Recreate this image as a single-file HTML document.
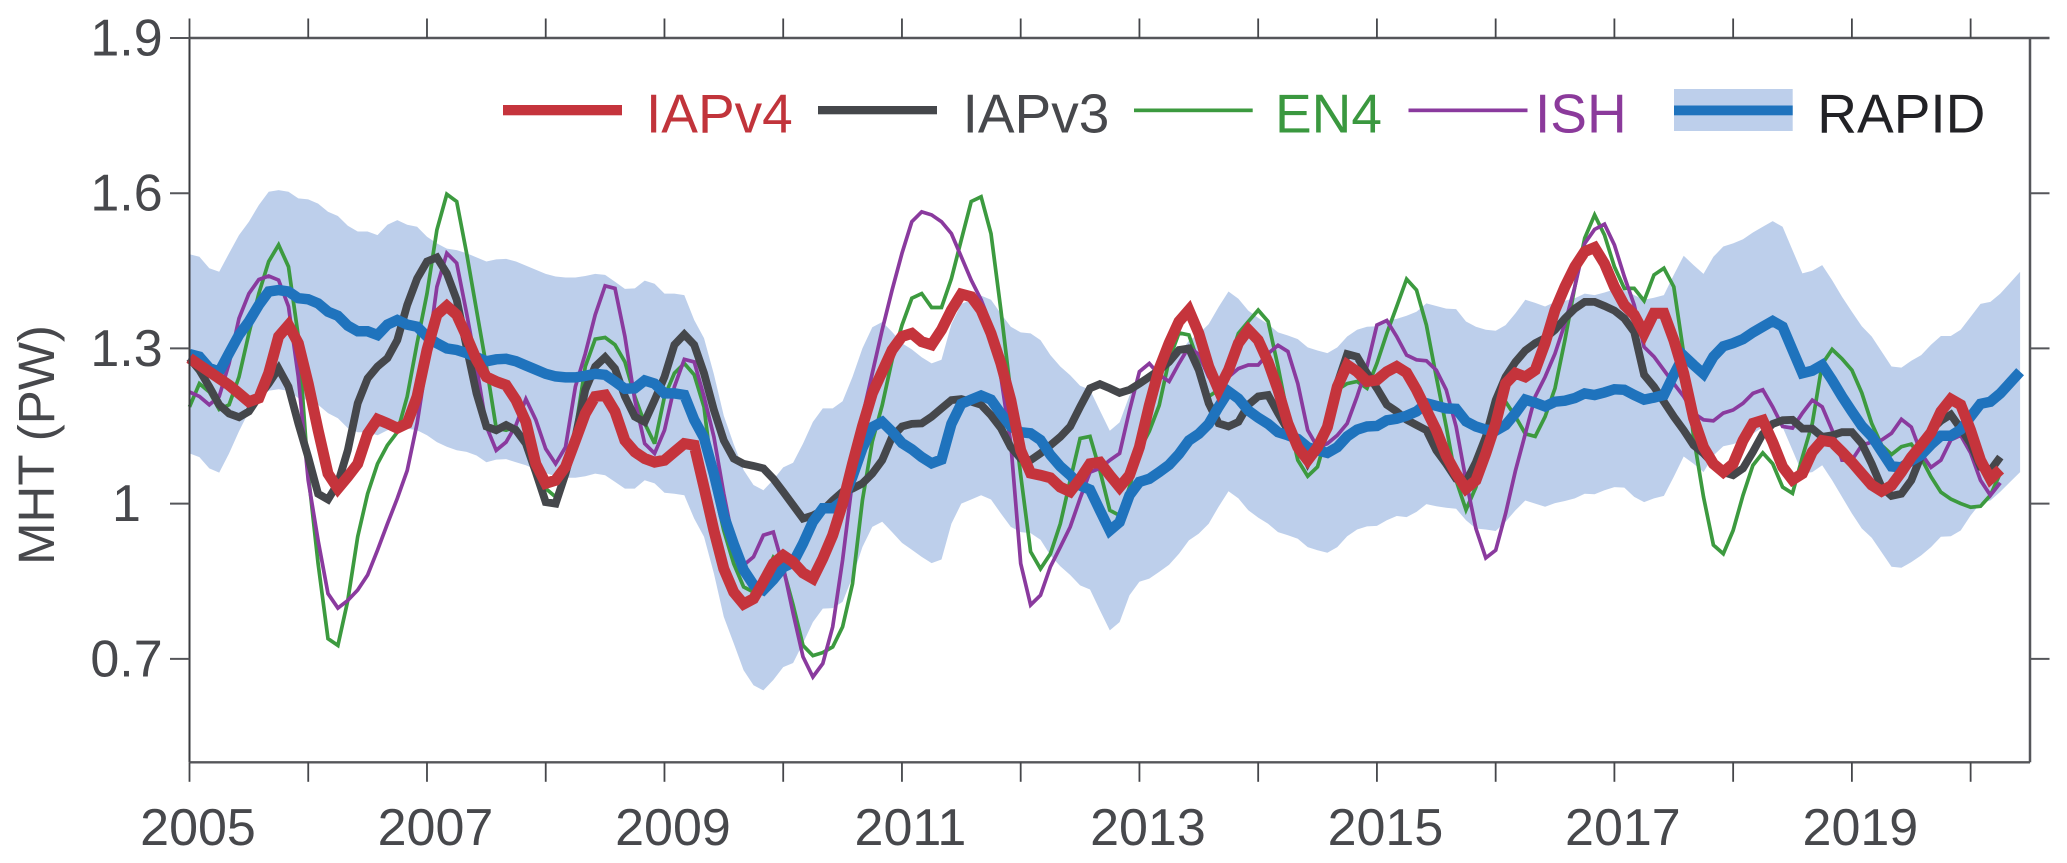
<!DOCTYPE html>
<html lang="en">
<head>
<meta charset="utf-8">
<title>MHT time series</title>
<style>
html,body{margin:0;padding:0;background:#fff;}
#chart{display:block;position:absolute;left:0;top:0;}
text{font-family:"Liberation Sans",Arial,sans-serif;}
</style>
</head>
<body>
<svg id="chart" xmlns="http://www.w3.org/2000/svg" width="2067" height="863" viewBox="0 0 2067 863">
  <rect x="0" y="0" width="2067" height="863" fill="#ffffff"/>
  <g id="band-layer"></g>
  <g id="series-layer"></g>
  <g id="axis-layer"></g>
  <text x="0" y="0" transform="translate(54,445) rotate(-90)" text-anchor="middle" font-size="51" fill="#47484c">MHT (PW)</text>
  <g>
    <rect x="503" y="105" width="119" height="10.3" fill="#c5343c"/>
    <text x="646" y="132.7" font-size="55" fill="#c1343b">IAPv4</text>
    <rect x="818" y="106" width="119" height="8.3" fill="#45474b"/>
    <text x="962.6" y="132.7" font-size="55" fill="#47484c">IAPv3</text>
    <rect x="1134" y="108.5" width="118.7" height="3.7" fill="#3c9a3f"/>
    <text x="1275" y="132.7" font-size="55" fill="#3a983f">EN4</text>
    <rect x="1408.5" y="108.5" width="119" height="3.7" fill="#8a3a9e"/>
    <text x="1535" y="132.7" font-size="55" fill="#8b3a9b">ISH</text>
    <rect x="1674" y="89" width="118.7" height="42" fill="#bdcfeb"/>
    <rect x="1674" y="105.5" width="118.7" height="9.8" fill="#1f73bd"/>
    <text x="1817.3" y="132.7" font-size="55" fill="#222226">RAPID</text>
  </g>
</svg>
<script>
const startYear = 2005;
const xTickYears = [2005,2006,2007,2008,2009,2010,2011,2012,2013,2014,2015,2016,2017,2018,2019,2020];
const xLabelYears = ['2005','2007','2009','2011','2013','2015','2017','2019'];
const yTickValues = [0.7,1,1.3,1.6,1.9];
const yTickLabels = ['0.7','1','1.3','1.6','1.9'];

const iapv4 = [
1.281,1.268,1.255,1.242,1.229,1.213,1.197,1.204,1.252,1.323,
1.345,1.31,1.232,1.142,1.058,1.029,1.052,1.077,1.135,1.163,
1.155,1.146,1.155,1.207,1.297,1.365,1.382,1.365,1.323,1.278,
1.245,1.236,1.229,1.2,1.158,1.077,1.039,1.045,1.071,1.122,
1.174,1.207,1.21,1.178,1.122,1.1,1.087,1.08,1.084,1.1,
1.116,1.113,1.032,0.948,0.874,0.829,0.806,0.816,0.849,0.884,
0.9,0.887,0.866,0.855,0.894,0.939,1,1.077,1.149,1.213,
1.255,1.297,1.323,1.329,1.313,1.307,1.336,1.374,1.405,1.4,
1.374,1.329,1.271,1.2,1.103,1.059,1.055,1.05,1.032,1.023,
1.048,1.077,1.08,1.055,1.032,1.055,1.109,1.19,1.261,1.31,
1.352,1.374,1.329,1.265,1.22,1.258,1.31,1.336,1.316,1.274,
1.22,1.155,1.109,1.084,1.109,1.148,1.226,1.268,1.255,1.236,
1.239,1.255,1.265,1.253,1.22,1.181,1.142,1.093,1.058,1.029,
1.045,1.097,1.155,1.232,1.252,1.245,1.258,1.31,1.374,1.419,
1.458,1.487,1.495,1.464,1.419,1.384,1.365,1.329,1.368,1.368,
1.316,1.252,1.165,1.109,1.077,1.061,1.077,1.122,1.155,1.161,
1.119,1.071,1.046,1.058,1.1,1.122,1.119,1.1,1.08,1.058,
1.036,1.024,1.035,1.061,1.09,1.113,1.137,1.178,1.202,1.191,
1.142,1.084,1.048,1.066];

const iapv3 = [
1.281,1.258,1.226,1.191,1.174,1.167,1.178,1.207,1.232,1.261,
1.226,1.155,1.09,1.019,1.008,1.039,1.103,1.194,1.242,1.265,
1.281,1.316,1.384,1.435,1.468,1.476,1.445,1.394,1.303,1.213,
1.149,1.142,1.152,1.142,1.116,1.061,1.003,1,1.058,1.129,
1.22,1.265,1.283,1.261,1.207,1.168,1.158,1.2,1.245,1.307,
1.327,1.307,1.252,1.181,1.122,1.087,1.077,1.073,1.068,1.048,
1.023,0.997,0.971,0.977,0.987,1.006,1.023,1.029,1.039,1.058,
1.084,1.129,1.149,1.154,1.155,1.168,1.184,1.2,1.202,1.197,
1.191,1.171,1.146,1.109,1.087,1.084,1.097,1.113,1.129,1.149,
1.187,1.223,1.231,1.223,1.214,1.22,1.232,1.245,1.258,1.274,
1.297,1.3,1.258,1.194,1.155,1.149,1.158,1.191,1.207,1.21,
1.175,1.142,1.122,1.08,1.116,1.142,1.232,1.289,1.284,1.252,
1.223,1.191,1.178,1.162,1.152,1.142,1.103,1.077,1.048,1.042,
1.08,1.129,1.2,1.245,1.274,1.296,1.31,1.32,1.336,1.358,
1.377,1.39,1.39,1.382,1.373,1.358,1.332,1.249,1.226,1.197,
1.168,1.142,1.113,1.097,1.077,1.061,1.055,1.068,1.1,1.135,
1.154,1.161,1.162,1.145,1.145,1.129,1.132,1.138,1.138,1.116,
1.077,1.032,1.015,1.019,1.045,1.093,1.142,1.16,1.172,1.145,
1.116,1.071,1.064,1.09];

const en4 = [
1.187,1.232,1.216,1.182,1.191,1.245,1.329,1.406,1.468,1.5,
1.458,1.323,1.058,0.884,0.739,0.726,0.813,0.936,1.019,1.077,
1.113,1.138,1.207,1.31,1.406,1.529,1.598,1.584,1.484,1.374,
1.265,1.146,1.142,1.149,1.116,1.064,1.029,1.013,1.064,1.142,
1.265,1.318,1.321,1.307,1.274,1.207,1.155,1.116,1.207,1.252,
1.271,1.249,1.187,1.032,0.948,0.884,0.839,0.829,0.852,0.896,
0.874,0.804,0.726,0.706,0.712,0.723,0.762,0.845,1.006,1.12,
1.19,1.278,1.345,1.397,1.406,1.379,1.379,1.435,1.51,1.584,
1.593,1.522,1.374,1.213,1.055,0.907,0.874,0.903,0.961,1.045,
1.126,1.13,1.064,0.987,0.977,1.032,1.103,1.14,1.19,1.278,
1.33,1.326,1.271,1.207,1.22,1.271,1.329,1.352,1.374,1.352,
1.265,1.168,1.084,1.053,1.071,1.138,1.22,1.232,1.236,1.223,
1.271,1.329,1.381,1.434,1.413,1.345,1.245,1.149,1.045,0.988,
1.032,1.103,1.165,1.197,1.168,1.135,1.13,1.168,1.223,1.316,
1.419,1.513,1.558,1.519,1.458,1.416,1.416,1.392,1.442,1.455,
1.419,1.29,1.129,1.013,0.92,0.903,0.948,1.016,1.074,1.098,
1.077,1.032,1.02,1.09,1.155,1.27,1.298,1.28,1.258,1.214,
1.155,1.113,1.095,1.11,1.115,1.088,1.052,1.022,1.009,1,
0.993,0.995,1.016,1.059];

const ish = [
1.216,1.207,1.191,1.207,1.271,1.358,1.406,1.433,1.44,1.432,
1.381,1.245,1.045,0.929,0.826,0.798,0.813,0.833,0.862,0.91,
0.961,1.01,1.064,1.155,1.278,1.419,1.484,1.465,1.368,1.265,
1.149,1.103,1.119,1.152,1.202,1.162,1.106,1.077,1.109,1.226,
1.29,1.365,1.421,1.416,1.323,1.2,1.116,1.097,1.142,1.226,
1.279,1.274,1.207,1.129,1.019,0.923,0.881,0.897,0.939,0.945,
0.878,0.788,0.704,0.665,0.691,0.762,0.891,1.045,1.168,1.252,
1.336,1.413,1.484,1.545,1.564,1.558,1.545,1.522,1.477,1.432,
1.394,1.345,1.245,1.116,0.884,0.804,0.823,0.878,0.916,0.955,
1.01,1.061,1.068,1.084,1.097,1.18,1.255,1.271,1.249,1.236,
1.271,1.303,1.288,1.245,1.223,1.245,1.261,1.268,1.268,1.29,
1.306,1.294,1.232,1.142,1.109,1.116,1.132,1.155,1.207,1.265,
1.345,1.354,1.323,1.287,1.278,1.276,1.258,1.22,1.149,1.045,
0.952,0.895,0.91,0.981,1.064,1.135,1.207,1.245,1.29,1.348,
1.419,1.503,1.53,1.54,1.5,1.439,1.384,1.303,1.284,1.258,
1.232,1.207,1.175,1.162,1.16,1.175,1.181,1.194,1.213,1.22,
1.187,1.149,1.146,1.175,1.2,1.187,1.142,1.084,1.084,1.113,
1.119,1.123,1.136,1.163,1.148,1.097,1.07,1.084,1.123,1.132,
1.098,1.045,1.016,1.04];

const rapid = [
1.289,1.284,1.262,1.255,1.291,1.326,1.352,1.384,1.41,1.413,
1.41,1.397,1.395,1.387,1.371,1.363,1.344,1.333,1.333,1.326,
1.346,1.355,1.346,1.342,1.323,1.31,1.3,1.297,1.291,1.283,
1.275,1.279,1.28,1.275,1.267,1.259,1.251,1.246,1.244,1.244,
1.247,1.251,1.249,1.236,1.222,1.223,1.238,1.232,1.213,1.213,
1.21,1.162,1.127,1.057,0.977,0.922,0.872,0.843,0.833,0.853,
0.877,0.886,0.923,0.965,0.991,0.991,1.005,1.052,1.107,1.148,
1.158,1.139,1.117,1.105,1.09,1.078,1.085,1.154,1.193,1.201,
1.209,1.201,1.174,1.149,1.138,1.136,1.123,1.094,1.072,1.055,
1.035,1.027,0.987,0.948,0.964,1.016,1.042,1.048,1.061,1.075,
1.096,1.122,1.135,1.154,1.187,1.217,1.203,1.18,1.166,1.154,
1.138,1.132,1.125,1.109,1.103,1.098,1.109,1.13,1.143,1.149,
1.15,1.161,1.164,1.17,1.178,1.194,1.189,1.184,1.183,1.159,
1.149,1.143,1.141,1.152,1.175,1.201,1.195,1.188,1.197,1.199,
1.204,1.213,1.21,1.215,1.221,1.22,1.21,1.201,1.205,1.21,
1.249,1.286,1.268,1.251,1.284,1.304,1.31,1.318,1.331,1.342,
1.353,1.342,1.297,1.252,1.257,1.268,1.239,1.207,1.178,1.15,
1.13,1.101,1.072,1.07,1.083,1.094,1.114,1.131,1.131,1.143,
1.168,1.193,1.197,1.213,1.234,1.255];

const rapidUpper = [
1.482,1.477,1.455,1.448,1.484,1.519,1.545,1.577,1.603,1.606,
1.603,1.59,1.588,1.58,1.564,1.556,1.537,1.526,1.526,1.519,
1.539,1.548,1.539,1.535,1.516,1.503,1.493,1.49,1.484,1.476,
1.468,1.472,1.473,1.468,1.46,1.452,1.444,1.439,1.437,1.437,
1.44,1.444,1.442,1.429,1.415,1.416,1.431,1.425,1.406,1.406,
1.403,1.355,1.32,1.25,1.17,1.115,1.065,1.036,1.026,1.046,
1.07,1.079,1.116,1.158,1.184,1.184,1.198,1.245,1.3,1.341,
1.351,1.332,1.31,1.298,1.283,1.271,1.278,1.347,1.386,1.394,
1.402,1.394,1.367,1.342,1.331,1.329,1.316,1.287,1.265,1.248,
1.228,1.22,1.18,1.141,1.157,1.209,1.235,1.241,1.254,1.268,
1.289,1.315,1.328,1.347,1.38,1.41,1.396,1.373,1.359,1.347,
1.331,1.325,1.318,1.302,1.296,1.291,1.302,1.323,1.336,1.342,
1.343,1.354,1.357,1.363,1.371,1.387,1.382,1.377,1.376,1.352,
1.342,1.336,1.334,1.345,1.368,1.394,1.388,1.381,1.39,1.392,
1.397,1.406,1.403,1.408,1.414,1.413,1.403,1.394,1.398,1.403,
1.442,1.479,1.461,1.444,1.477,1.497,1.503,1.511,1.524,1.535,
1.546,1.535,1.49,1.445,1.45,1.461,1.432,1.4,1.371,1.343,
1.323,1.294,1.265,1.263,1.276,1.287,1.307,1.324,1.324,1.336,
1.361,1.386,1.39,1.406,1.427,1.448];

const rapidLower = [
1.097,1.09,1.068,1.06,1.097,1.14,1.178,1.2,1.218,1.221,
1.218,1.204,1.2,1.191,1.175,1.165,1.146,1.138,1.138,1.132,
1.142,1.148,1.145,1.142,1.132,1.119,1.11,1.103,1.1,1.093,
1.08,1.085,1.086,1.08,1.074,1.066,1.059,1.053,1.05,1.05,
1.053,1.058,1.055,1.042,1.029,1.029,1.045,1.039,1.021,1.019,
1.016,0.971,0.936,0.865,0.781,0.73,0.678,0.649,0.639,0.659,
0.684,0.692,0.73,0.771,0.797,0.798,0.81,0.858,0.916,0.955,
0.965,0.945,0.924,0.911,0.897,0.885,0.892,0.961,1,1.008,
1.016,1.008,0.981,0.955,0.945,0.943,0.93,0.9,0.879,0.862,
0.842,0.834,0.794,0.755,0.771,0.823,0.849,0.855,0.868,0.882,
0.903,0.929,0.942,0.961,0.994,1.024,1.01,0.987,0.973,0.961,
0.945,0.939,0.932,0.916,0.91,0.905,0.916,0.937,0.95,0.956,
0.957,0.968,0.976,0.974,0.984,0.999,0.995,0.992,0.99,0.968,
0.952,0.95,0.947,0.965,0.987,1.006,1,0.994,1.001,1.005,
1.01,1.019,1.018,1.026,1.032,1.031,1.013,1.003,1.01,1.015,
1.052,1.091,1.077,1.061,1.093,1.111,1.115,1.122,1.135,1.148,
1.158,1.148,1.103,1.058,1.061,1.074,1.045,1.013,0.981,0.952,
0.934,0.906,0.878,0.876,0.887,0.9,0.916,0.936,0.937,0.948,
0.977,1.001,1.006,1.023,1.042,1.061];

const NS = 'http://www.w3.org/2000/svg';
const plotLeft = 189.5, plotRight = 2030, plotTop = 38, plotBottom = 762.3;
const xMin = 2005, xMax = 2020.5, yMin = 0.5, yMax = 1.9;
const tickLength = 19.5;
const axisColor = '#55565a';
const labelColor = '#47484c';

function xScale(year) {
  return plotLeft + (year - xMin) / (xMax - xMin) * (plotRight - plotLeft);
}
function yScale(value) {
  return plotBottom - (value - yMin) / (yMax - yMin) * (plotBottom - plotTop);
}
function monthX(i) {
  return xScale(startYear + i / 12);
}
function pointsOf(values) {
  return values.map(function (v, i) {
    return monthX(i).toFixed(1) + ',' + yScale(v).toFixed(1);
  }).join(' ');
}
function makeLine(x1, y1, x2, y2, width, color) {
  const el = document.createElementNS(NS, 'line');
  el.setAttribute('x1', x1);
  el.setAttribute('y1', y1);
  el.setAttribute('x2', x2);
  el.setAttribute('y2', y2);
  el.setAttribute('stroke', color);
  el.setAttribute('stroke-width', width);
  return el;
}
function makeLabel(x, y, anchor, content) {
  const el = document.createElementNS(NS, 'text');
  el.setAttribute('x', x);
  el.setAttribute('y', y);
  el.setAttribute('text-anchor', anchor);
  el.setAttribute('font-size', '52');
  el.setAttribute('fill', labelColor);
  el.textContent = content;
  return el;
}

const bandLayer = document.getElementById('band-layer');
const seriesLayer = document.getElementById('series-layer');
const axisLayer = document.getElementById('axis-layer');

const band = document.createElementNS(NS, 'polygon');
band.setAttribute('points', pointsOf(rapidUpper) + ' ' + rapidLower.map(function (v, i) {
  return monthX(i).toFixed(1) + ',' + yScale(v).toFixed(1);
}).reverse().join(' '));
band.setAttribute('fill', '#bdcfeb');


bandLayer.appendChild(band);

function addSeries(values, color, width) {
  const el = document.createElementNS(NS, 'polyline');
  el.setAttribute('points', pointsOf(values));
  el.setAttribute('fill', 'none');
  el.setAttribute('stroke', color);
  el.setAttribute('stroke-width', width);
  el.setAttribute('stroke-linejoin', 'miter');
  el.setAttribute('stroke-miterlimit', '3');
  seriesLayer.appendChild(el);
  return el;
}

const en4Line = addSeries(en4, '#3c9a3f', 3.7);


const ishLine = addSeries(ish, '#8a3a9e', 3.7);


const iapv3Line = addSeries(iapv3, '#45474b', 7.8);


const rapidLine = addSeries(rapid, '#1f73bd', 10.5);


const iapv4Line = addSeries(iapv4, '#c5343c', 11);



const spineLeft = makeLine(plotLeft, plotTop, plotLeft, plotBottom, 2, '#3a3b3f');


axisLayer.appendChild(spineLeft);
const spineRight = makeLine(plotRight, plotTop, plotRight, plotBottom, 2.5, axisColor);


axisLayer.appendChild(spineRight);
const spineTop = makeLine(plotLeft, plotTop, plotRight + tickLength, plotTop, 2.4, axisColor);


axisLayer.appendChild(spineTop);
const spineBottom = makeLine(plotLeft, plotBottom, plotRight, plotBottom, 2.4, axisColor);


axisLayer.appendChild(spineBottom);

xTickYears.forEach(function (year) {
  const x = xScale(year);
  const top = makeLine(x, plotTop, x, plotTop - tickLength, 1.8, '#45464a');
  
  
  axisLayer.appendChild(top);
  const bottom = makeLine(x, plotBottom, x, plotBottom + tickLength, 1.8, '#45464a');
  
  
  axisLayer.appendChild(bottom);
});
xLabelYears.forEach(function (label) {
  const lab = makeLabel(xScale(Number(label)) + 8.5, 845, 'middle', label);
  
  
  axisLayer.appendChild(lab);
});
yTickValues.forEach(function (value, i) {
  const y = yScale(value);
  const left = makeLine(plotLeft, y, plotLeft - tickLength, y, 2, axisColor);
  
  
  axisLayer.appendChild(left);
  const right = makeLine(plotRight, y, plotRight + tickLength, y, 2, axisColor);
  
  
  axisLayer.appendChild(right);
  const lab = makeLabel(126.5, y + 17.5, 'middle', yTickLabels[i]);
  
  
  axisLayer.appendChild(lab);
});
</script>
</body>
</html>
